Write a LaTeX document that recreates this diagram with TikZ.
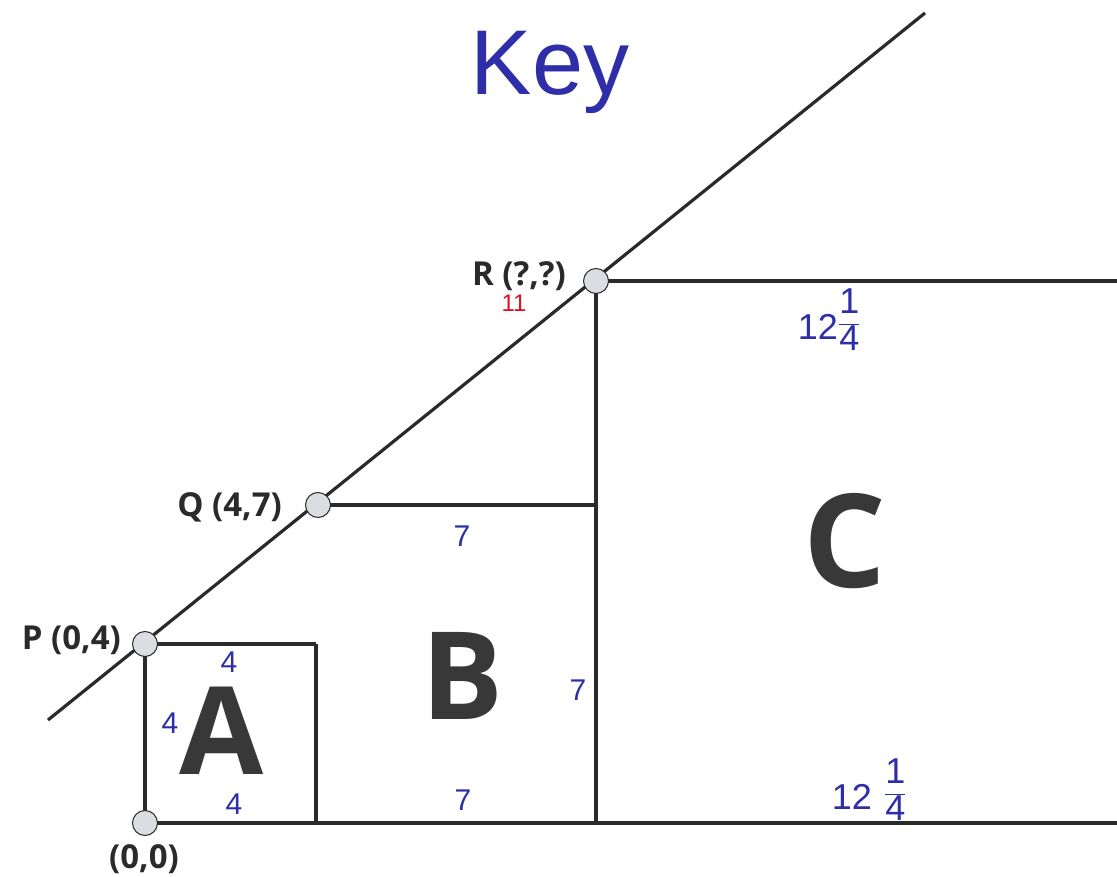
\documentclass[tikz,border=0pt]{standalone}
\usepackage{fontspec}
\setmainfont{Open Sans}
\newfontfamily\handfont{Liberation Sans}
\usetikzlibrary{backgrounds}
\definecolor{ink}{HTML}{2A2A2A}
\definecolor{pen}{HTML}{2E2EA8}
\definecolor{redpen}{HTML}{E0101E}
\definecolor{ptfill}{HTML}{DCDCE3}
\definecolor{bigletter}{HTML}{383838}
\newcommand{\handfrac}[2]{$\displaystyle\frac{\mbox{\handfont #1}}{\mbox{\handfont #2}}$}
\begin{document}
\begin{tikzpicture}[x=1pt,y=-1pt,
  line/.style={draw=ink,line width=3.2pt},
  pt/.style={circle,draw=ink,line width=1pt,fill=ptfill,minimum size=25pt,inner sep=0pt},
  lbl/.style={font=\fontsize{33}{33}\selectfont\bfseries,text=ink,inner sep=0pt},
  big/.style={font=\fontsize{122}{122}\selectfont\bfseries,text=bigletter,inner sep=0pt,text height=86pt,text depth=0pt},
  hand/.style={font=\handfont\fontsize{30}{30}\selectfont,text=pen,inner sep=0pt},
  handbig/.style={hand,font=\handfont\fontsize{36}{36}\selectfont},
]
\useasboundingbox (0,0) rectangle (1117,877);
% points
\node[pt] (O) at (145,823) {};
\node[pt] (P) at (145,644) {};
\node[pt] (Q) at (318,505) {};
\node[pt] (R) at (596,281) {};
% free ends
\coordinate (d0) at (48,720);
\coordinate (d1) at (925,13);
\coordinate (e1) at (1117,281);
\coordinate (e0) at (1117,823);
\coordinate (pa) at (316,644);
\coordinate (qb) at (596,505);
\coordinate (ba) at (316,823);
\coordinate (bb) at (596,823);
\begin{scope}[on background layer]
  \fill[white] (0,0) rectangle (1117,877);
  \draw[line] (d0) -- (d1);
  \draw[line] (O.center) -- (e0);
  \draw[line] (O.center) -- (P.center);
  \draw[line] (P.center) -- (pa);
  \draw[line] (pa) -- (ba);
  \draw[line] (Q.center) -- (qb);
  \draw[line] (R.center) -- (bb);
  \draw[line] (R.center) -- (e1);
\end{scope}
% labels
\node[lbl,anchor=east] (Rl) at (566,276) {R (?,?)};
\node[lbl,anchor=east] (Ql) at (282,507) {Q (4,7)};
\node[lbl,anchor=east] (Pl) at (121,640) {P (0,4)};
\node[lbl] (Ol) at (144,859) {(0,0)};
% big letters
\node[big] (A) at (222,731) {A};
\node[big] (B) at (462,676) {B};
\node[big,font=\fontsize{130}{130}\selectfont\bfseries,text height=92pt] (C) at (845,541) {C};
% handwritten
\node[hand,font=\handfont\fontsize{92}{92}\selectfont] (key) at (550,72) {Key};
\node[handbig,anchor=east] (c1) at (838,327) {12};
\node[handbig,anchor=west] (c1f) at (838,320) {\handfrac{1}{4}};
\node[handbig,anchor=east] (c2) at (872,797) {12};
\node[handbig,anchor=west] (c2f) at (884,790) {\handfrac{1}{4}};
\node[hand] (b1) at (462,536) {7};
\node[hand] (b2) at (578,690) {7};
\node[hand] (b3) at (463,800) {7};
\node[hand] (a1) at (229,662) {4};
\node[hand] (a2) at (170,723) {4};
\node[hand] (a3) at (234,804) {4};
\node[hand,text=redpen,font=\handfont\fontsize{24}{24}\selectfont] (r11) at (514,303) {11};
\end{tikzpicture}
\end{document}
